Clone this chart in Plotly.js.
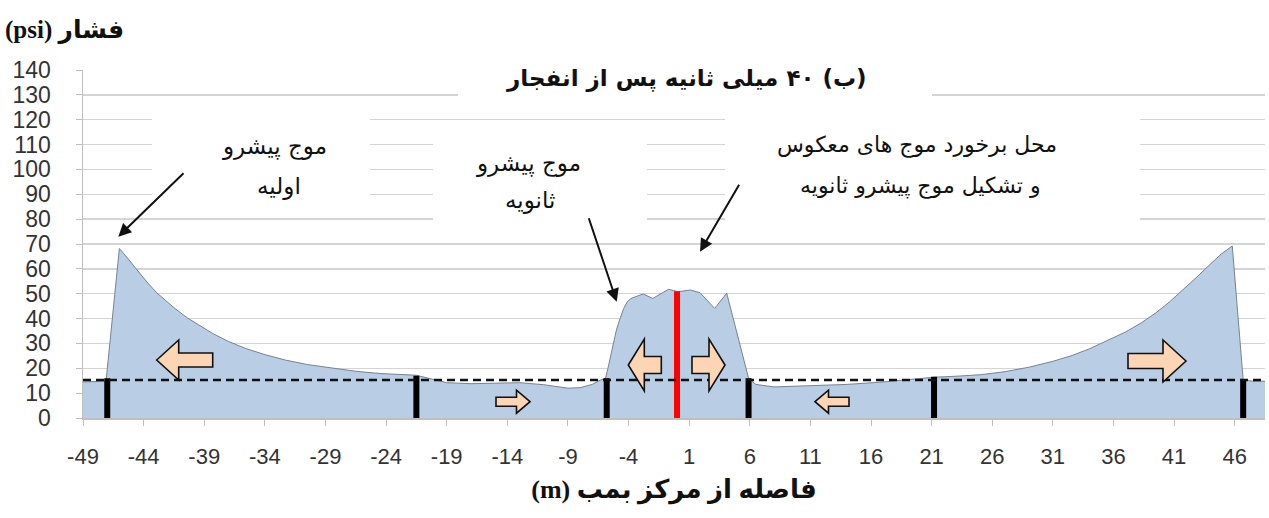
<!DOCTYPE html>
<html>
<head>
<meta charset="utf-8">
<script src="https://cdn.plot.ly/plotly-3.0.1.min.js"></script>
<style>html,body{margin:0;padding:0;background:#fff;}#chart{width:1269px;height:518px;}</style>
</head>
<body>
<div id="chart"></div>
<script>
// ---- data ----
const distance = [-49,-48,-47.1,-46.0,-45.6,-45.2,-44.7,-44.2,-43.6,-42.9,-42.2,-41.4,-40.4,-39.4,-38.3,-37.0,-35.6,-34.0,-32.3,-30.5,-28.5,-26.5,-24.5,-22.5,-21.5,-20.5,-19,-17,-15,-13,-11,-9,-8,-7,-6.3,-5.9,-5.7,-5.5,-5.25,-5.0,-4.7,-4.4,-4.1,-3.8,-2.8,-2.0,-0.7,0.1,1.1,1.9,3.1,4.1,5.9,6.5,8,10,12,14,17,19,21.2,23,25,27,29,31,32.5,34,35.5,37,38.3,39.5,40.6,41.7,42.9,43.9,44.9,45.8,46.7,47.5,48.5];
const pressure = [14.5,14.5,14.8,68.2,66,63.6,60.5,57.5,54,50.3,47.3,44,40.3,37.2,34,30.8,28,25.5,23.3,21.5,20,18.8,17.9,17.3,17.2,16,14.2,13.8,14,14.2,13.4,12,12.2,13.5,15.3,16,20,24.7,30,35.4,40,44.1,46.8,48.1,49.9,48.1,51.8,50.8,51.5,50.4,44.1,50.2,16,13.5,12.5,12.8,13,13.5,14.5,15.3,16.4,16.8,17.4,18.6,20.4,22.8,25,27.8,31.3,34.6,38.3,42.3,46.6,51.4,56.8,61.5,66,69.2,15.3,14.8,14.8];
const frontPositions = [-47.0,-21.5,-5.8,5.9,21.2,46.7];
const frontHeights = [16,17,16,16,16.6,15.5];
const centerX = 0;
const centerHeight = 51;
const ambientLevel = 15.3;
const xTickVals = [-49,-44,-39,-34,-29,-24,-19,-14,-9,-4,1,6,11,16,21,26,31,36,41,46];
const yTickVals = [0,10,20,30,40,50,60,70,80,90,100,110,120,130,140];

// ---- layout geometry ----
const W=1269,H=518, PL=83, PR=1265, PT=70, PB=418;
const XMIN=-49, XMAX=48.5, YMIN=0, YMAX=140;
const px2x = p => XMIN + (p-PL)/(PR-PL)*(XMAX-XMIN);
const py2y = p => YMIN + (PB-p)/(PB-PT)*(YMAX-YMIN);
const RTL = s => '\u202B' + s + '\u202C';

const traces = [];
traces.push({x:distance, y:pressure, type:'scatter', mode:'lines', fill:'tozeroy',
  fillcolor:'rgb(185,205,229)', line:{color:'rgb(120,130,145)', width:1}, hoverinfo:'skip', showlegend:false});
frontPositions.forEach((fx,i)=>{
  traces.push({x:[fx,fx], y:[0,frontHeights[i]], type:'scatter', mode:'lines',
    line:{color:'#000', width:6}, hoverinfo:'skip', showlegend:false});
});
traces.push({x:[centerX,centerX], y:[0,centerHeight], type:'scatter', mode:'lines',
  line:{color:'#ff0000', width:6}, hoverinfo:'skip', showlegend:false});

const shapes = [];
function mask(x0,x1,y0,y1){
  shapes.push({type:'rect', xref:'x', yref:'y', x0:px2x(x0), x1:px2x(x1), y0:py2y(y1), y1:py2y(y0),
    fillcolor:'#fff', line:{width:0}, layer:'between'});
}
mask(458,932,52,108);
mask(152,370,108,208);
mask(433,647,132,232);
mask(725,1140,108,232);
shapes.push({type:'line', xref:'paper', yref:'y', x0:0, x1:1, y0:ambientLevel, y1:ambientLevel,
  line:{color:'#111', width:2.5, dash:'8px,5px'}, layer:'above'});
function blockArrow(tip, cy, dir, headLen, total, headHalf, bodyHalf){
  const hb = tip - dir*headLen, tail = tip - dir*total;
  const pts = [[tip,cy],[hb,cy-headHalf],[hb,cy-bodyHalf],[tail,cy-bodyHalf],[tail,cy+bodyHalf],[hb,cy+bodyHalf],[hb,cy+headHalf]];
  const d = 'M' + pts.map(p=>px2x(p[0]).toFixed(3)+','+py2y(p[1]).toFixed(3)).join(' L') + ' Z';
  shapes.push({type:'path', xref:'x', yref:'y', path:d, fillcolor:'rgb(252,213,180)',
    line:{color:'#111', width:1.6}, layer:'above'});
}
blockArrow(156.7,360,-1,22,56,20,7);
blockArrow(530,401.7,1,13.5,34,11.5,4.5);
blockArrow(628.3,365,-1,16,33,26,8.5);
blockArrow(725,365,1,16,33,26,8.5);
blockArrow(815,401.7,-1,13.5,34,11.5,4.5);
blockArrow(1186,361,1,23,58,21,7.5);

const FA = 'DejaVu Sans, Noto Sans, sans-serif';
const FS = 'Liberation Serif, DejaVu Sans, serif';
const annotations = [];
function txt(t, px, py, size, bold){
  const s = RTL(t);
  annotations.push({text: bold?('<b>'+s+'</b>'):s, xref:'x', yref:'y', x:px2x(px), y:py2y(py),
    xanchor:'center', yanchor:'middle', showarrow:false, font:{family:FA, size:size, color:'#111'}});
}
txt('(ب) ۴۰ میلی ثانیه پس از انفجار', 686, 78, 23, true);
txt('موج پیشرو', 274, 146, 23, false);
txt('اولیه', 279, 186, 23, false);
txt('موج پیشرو', 528, 163, 23, false);
txt('ثانویه', 530, 200, 23, false);
txt('محل برخورد موج های معکوس', 917, 145, 22, false);
txt('و تشکیل موج پیشرو ثانویه', 920, 186, 22, false);
function arrow(hx,hy,tx,ty){
  annotations.push({text:'', xref:'x', yref:'y', x:px2x(hx), y:py2y(hy), ax:tx-hx, ay:ty-hy,
    showarrow:true, arrowhead:2, arrowsize:1.3, arrowwidth:2, arrowcolor:'#111'});
}
arrow(118.3,236.7,185,171.7);
arrow(616.7,301.7,588.3,216.7);
arrow(700,251.7,740,183.3);
annotations.push({text:'<b>'+RTL('فشار (psi)')+'</b>', xref:'paper', yref:'paper', x:-0.068, xanchor:'left',
  y:1+ (PT-30)/(PB-PT), yanchor:'middle', showarrow:false, font:{family:FS, size:25, color:'#111'}});

const layout = {
  width:W, height:H, margin:{l:PL, r:W-PR, t:PT, b:H-PB},
  paper_bgcolor:'#fff', plot_bgcolor:'#fff', showlegend:false,
  xaxis:{range:[XMIN,XMAX], tickvals:xTickVals, ticktext:xTickVals.map(String), showgrid:false, zeroline:false,
    showline:true, linecolor:'#bfbfbf', linewidth:1.5, ticks:'outside', ticklen:6, tickcolor:'#bfbfbf',
    ticklabelstandoff:12, tickfont:{family:'Liberation Sans, Arial, sans-serif', size:22, color:'#333'},
    title:{text:'<b>'+RTL('فاصله از مرکز بمب (m)')+'</b>', font:{family:FS, size:26, color:'#111'}, standoff:12}},
  yaxis:{range:[YMIN,YMAX], tickvals:yTickVals, showgrid:true, gridcolor:'#d4d4d4', gridwidth:1.5, zeroline:false,
    showline:true, linecolor:'#bfbfbf', linewidth:1.5, ticks:'outside', ticklen:6, tickcolor:'#bfbfbf',
    ticklabelstandoff:20, tickfont:{family:'Liberation Sans, Arial, sans-serif', size:23, color:'#333'}},
  shapes:shapes, annotations:annotations
};
Plotly.newPlot('chart', traces, layout, {staticPlot:true, displayModeBar:false});
</script>
</body>
</html>
